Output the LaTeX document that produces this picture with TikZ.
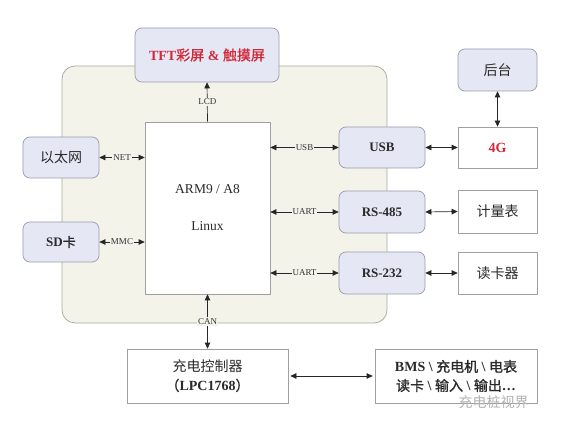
\documentclass[tikz,border=0pt]{standalone}
\usepackage{fontspec}
\setmainfont{Liberation Serif}
\newfontfamily\cjk{Noto Sans CJK SC}[AutoFakeBold=1.2]
\usetikzlibrary{arrows.meta}
\definecolor{bgfill}{HTML}{F3F3EA}
\definecolor{bgline}{HTML}{A8A8A0}
\definecolor{lav}{HTML}{E5E8F4}
\definecolor{lavline}{HTML}{9A9CA8}
\definecolor{boxline}{HTML}{A0A0A0}
\definecolor{redtxt}{HTML}{D2283A}
\definecolor{txt}{HTML}{2A2A2A}
\tikzset{
  lavbox/.style={draw=lavline, fill=lav, rounded corners=7pt, line width=0.7pt, inner sep=0pt, text=txt},
  whitebox/.style={draw=boxline, fill=white, line width=0.7pt, inner sep=0pt, text=txt},
  link/.style={{Triangle[length=6pt,width=5.5pt]}-{Triangle[length=6pt,width=5.5pt]}, line width=0.7pt, draw=black!85},
  uplink/.style={-{Triangle[length=6pt,width=5.5pt]}, line width=0.7pt, draw=black!85},
  lbl/.style={fill=bgfill, inner sep=1pt, font=\fontsize{9}{10}\selectfont, text=black!80},
  zh/.style={font=\cjk\fontsize{14}{16}\selectfont},
  zhb/.style={font=\bfseries\fontsize{13}{16}\selectfont},
}
\begin{document}
\begin{tikzpicture}[x=1pt,y=-1pt]
\useasboundingbox (0,0) rectangle (583,427);
\fill[white] (0,0) rectangle (583,427);
% background panel
\draw[draw=bgline, fill=bgfill, line width=0.7pt, rounded corners=13pt] (62,66) rectangle (387,323);

% nodes
\node[lavbox, minimum width=144pt, minimum height=54pt, text=redtxt, font=\bfseries\fontsize{14}{16}\selectfont] (tft) at (207,55) {TFT{\cjk 彩屏} \& {\cjk 触摸屏}};
\node[whitebox, minimum width=125pt, minimum height=172pt, align=center, font=\fontsize{13.5}{15}\selectfont] (arm) at (207.5,208) {ARM9 / A8\\[22pt]Linux};
\node[lavbox, minimum width=76pt, minimum height=41pt, zh] (eth) at (61,157.5) {以太网};
\node[lavbox, minimum width=76pt, minimum height=40pt, zhb] (sd) at (61,242) {SD{\cjk 卡}};
\node[lavbox, minimum width=86pt, minimum height=41pt, zhb] (usb) at (382,147.5) {USB};
\node[lavbox, minimum width=86pt, minimum height=42pt, zhb] (rsa) at (382,212) {RS-485};
\node[lavbox, minimum width=86pt, minimum height=42pt, zhb] (rsb) at (382,273) {RS-232};
\node[whitebox, minimum width=79pt, minimum height=41pt, text=redtxt, font=\bfseries\fontsize{14}{16}\selectfont] (g4) at (497.5,147.5) {4G};
\node[whitebox, minimum width=79pt, minimum height=43pt, zh] (meter) at (497.5,211.5) {计量表};
\node[whitebox, minimum width=79pt, minimum height=42pt, zh] (card) at (497.5,273) {读卡器};
\node[lavbox, minimum width=79pt, minimum height=42pt, zh] (host) at (497.5,70) {后台};
\node[whitebox, minimum width=161pt, minimum height=54pt, align=center, font=\fontsize{14}{19}\selectfont] (ctrl) at (207.5,376) {{\cjk 充电控制器}\\{\bfseries{\cjk （}LPC1768{\cjk ）}}};
\node[whitebox, minimum width=162pt, minimum height=54pt, align=center, font=\bfseries\fontsize{14}{19}\selectfont] (bms) at (456,376) {BMS \textbackslash{} {\cjk 充电机} \textbackslash{} {\cjk 电表}\\{\cjk 读卡} \textbackslash{} {\cjk 输入} \textbackslash{} {\cjk 输出}…};

% connectors
\draw[uplink] (arm.north) -- (tft.south) node[midway, lbl] (lcd) {LCD};
\draw[link] (eth.east) -- (eth.east -| arm.west) node[midway, lbl] (net) {NET};
\draw[link] (sd.east) -- (sd.east -| arm.west) node[midway, lbl] (mmc) {MMC};
\draw[link] (usb.west -| arm.east) -- (usb.west) node[midway, lbl] (usbl) {USB};
\draw[link] (rsa.west -| arm.east) -- (rsa.west) node[midway, lbl] (uarta) {UART};
\draw[link] (rsb.west -| arm.east) -- (rsb.west) node[midway, lbl] (uartb) {UART};
\draw[link] (usb.east) -- (g4.west);
\draw[link] (rsa.east) -- (meter.west);
\draw[link] (rsb.east) -- (card.west);
\draw[link] (host.south) -- (g4.north);
\draw[link] (arm.south) -- (ctrl.north) node[midway, lbl] (can) {CAN};
\draw[link] ([xshift=2pt]ctrl.east) -- ([xshift=-2pt]bms.west);

% watermark
\node[text=black!30, font=\cjk\fontsize{14}{16}\selectfont, anchor=west] (wm) at (455,402) {充电桩视界};
\end{tikzpicture}
\end{document}
